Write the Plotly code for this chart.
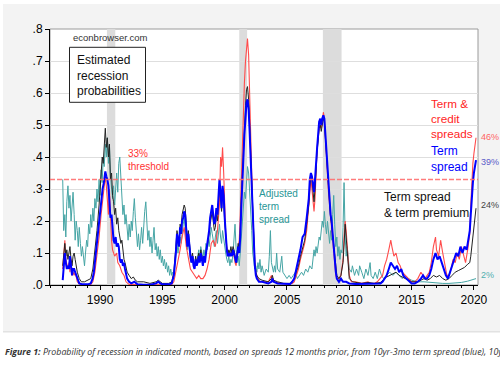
import plotly.graph_objects as go

# ---------------- data ----------------
# (decimal year, probability)
TERM_SPREAD = [
    (1987.00, 0.015), (1987.08, 0.06), (1987.17, 0.10), (1987.25, 0.07), (1987.33, 0.05), (1987.42, 0.06),
    (1987.50, 0.05), (1987.58, 0.09), (1987.67, 0.06), (1987.75, 0.03), (1987.83, 0.05), (1987.92, 0.05),
    (1988.00, 0.04), (1988.17, 0.02), (1988.33, 0.005), (1988.50, 0.003), (1988.75, 0.002), (1989.00, 0.002),
    (1989.25, 0.005), (1989.40, 0.02), (1989.50, 0.04), (1989.60, 0.08), (1989.75, 0.14), (1989.90, 0.20),
    (1990.00, 0.24), (1990.10, 0.27), (1990.20, 0.30), (1990.30, 0.32), (1990.42, 0.355), (1990.50, 0.34),
    (1990.58, 0.33), (1990.67, 0.31), (1990.75, 0.25), (1990.83, 0.21), (1990.92, 0.22), (1991.00, 0.17),
    (1991.08, 0.14), (1991.17, 0.13), (1991.25, 0.15), (1991.33, 0.12), (1991.42, 0.13), (1991.50, 0.12),
    (1991.58, 0.08), (1991.67, 0.07), (1991.75, 0.08), (1991.83, 0.06), (1991.92, 0.07), (1992.00, 0.05),
    (1992.17, 0.02), (1992.33, 0.01), (1992.50, 0.005), (1992.75, 0.01), (1993.00, 0.002), (1993.50, 0.001),
    (1994.00, 0.001), (1994.50, 0.005), (1994.67, 0.01), (1994.83, 0.005), (1995.00, 0.002), (1995.50, 0.002),
    (1995.75, 0.005), (1995.92, 0.03), (1996.00, 0.06), (1996.08, 0.10), (1996.17, 0.16), (1996.25, 0.14),
    (1996.33, 0.12), (1996.42, 0.18), (1996.50, 0.16), (1996.58, 0.20), (1996.67, 0.21), (1996.75, 0.23),
    (1996.83, 0.22), (1996.92, 0.17), (1997.00, 0.12), (1997.08, 0.16), (1997.17, 0.11), (1997.25, 0.09),
    (1997.33, 0.07), (1997.42, 0.09), (1997.50, 0.06), (1997.58, 0.05), (1997.67, 0.08), (1997.75, 0.06),
    (1997.83, 0.07), (1997.92, 0.09), (1998.00, 0.07), (1998.08, 0.10), (1998.17, 0.08), (1998.25, 0.06),
    (1998.33, 0.09), (1998.42, 0.07), (1998.50, 0.10), (1998.58, 0.12), (1998.67, 0.14), (1998.75, 0.17),
    (1998.83, 0.21), (1998.92, 0.24), (1999.00, 0.25), (1999.08, 0.22), (1999.17, 0.19), (1999.25, 0.20),
    (1999.33, 0.24), (1999.42, 0.22), (1999.50, 0.27), (1999.58, 0.33), (1999.67, 0.29), (1999.75, 0.24),
    (1999.83, 0.31), (1999.92, 0.28), (2000.00, 0.21), (2000.08, 0.15), (2000.17, 0.11), (2000.25, 0.09),
    (2000.33, 0.10), (2000.42, 0.09), (2000.50, 0.10), (2000.58, 0.09), (2000.67, 0.11), (2000.75, 0.10),
    (2000.83, 0.08), (2000.92, 0.07), (2001.00, 0.09), (2001.08, 0.12), (2001.17, 0.10), (2001.25, 0.15),
    (2001.33, 0.24), (2001.42, 0.33), (2001.50, 0.41), (2001.58, 0.47), (2001.67, 0.52), (2001.75, 0.57),
    (2001.83, 0.58), (2001.92, 0.55), (2002.00, 0.48), (2002.08, 0.40), (2002.17, 0.30), (2002.25, 0.19),
    (2002.33, 0.12), (2002.42, 0.06), (2002.50, 0.03), (2002.58, 0.02), (2002.75, 0.01), (2003.00, 0.01),
    (2003.50, 0.005), (2003.75, 0.01), (2003.83, 0.02), (2003.92, 0.01), (2004.25, 0.005), (2004.75, 0.003),
    (2005.00, 0.002), (2005.25, 0.003), (2005.42, 0.01), (2005.58, 0.02), (2005.75, 0.05), (2005.92, 0.08),
    (2006.08, 0.11), (2006.25, 0.15), (2006.42, 0.16), (2006.58, 0.21), (2006.75, 0.27), (2006.83, 0.33),
    (2006.92, 0.35), (2007.00, 0.34), (2007.08, 0.31), (2007.17, 0.29), (2007.25, 0.33), (2007.33, 0.40),
    (2007.42, 0.43), (2007.50, 0.47), (2007.58, 0.51), (2007.67, 0.52), (2007.75, 0.50), (2007.83, 0.52),
    (2007.92, 0.53), (2008.00, 0.52), (2008.08, 0.47), (2008.17, 0.41), (2008.25, 0.34), (2008.33, 0.31),
    (2008.42, 0.26), (2008.50, 0.22), (2008.58, 0.20), (2008.67, 0.15), (2008.75, 0.11), (2008.83, 0.08),
    (2008.92, 0.04), (2009.00, 0.02), (2009.17, 0.01), (2009.33, 0.02), (2009.50, 0.01), (2009.75, 0.01),
    (2010.00, 0.005), (2010.50, 0.003), (2011.00, 0.003), (2011.50, 0.005), (2012.00, 0.003), (2012.50, 0.005),
    (2012.67, 0.01), (2012.83, 0.02), (2013.00, 0.03), (2013.17, 0.05), (2013.33, 0.07), (2013.50, 0.06),
    (2013.67, 0.05), (2013.83, 0.06), (2014.00, 0.04), (2014.17, 0.05), (2014.33, 0.03), (2014.58, 0.02),
    (2014.83, 0.01), (2015.00, 0.005), (2015.25, 0.005), (2015.50, 0.01), (2015.75, 0.02), (2015.92, 0.03),
    (2016.08, 0.02), (2016.25, 0.02), (2016.42, 0.03), (2016.58, 0.05), (2016.75, 0.08), (2016.92, 0.10),
    (2017.08, 0.08), (2017.25, 0.09), (2017.42, 0.07), (2017.58, 0.05), (2017.75, 0.03), (2017.92, 0.02),
    (2018.08, 0.04), (2018.25, 0.06), (2018.42, 0.08), (2018.58, 0.10), (2018.75, 0.09), (2018.92, 0.12),
    (2019.08, 0.10), (2019.25, 0.12), (2019.42, 0.11), (2019.58, 0.15), (2019.67, 0.17), (2019.75, 0.22),
    (2019.83, 0.28), (2019.92, 0.32), (2020.00, 0.35), (2020.08, 0.37), (2020.17, 0.39),
]

TERM_CREDIT = [
    (1987.00, 0.05), (1987.08, 0.09), (1987.17, 0.14), (1987.25, 0.08), (1987.33, 0.06), (1987.42, 0.05),
    (1987.50, 0.07), (1987.58, 0.04), (1987.67, 0.08), (1987.75, 0.03), (1987.83, 0.04), (1987.92, 0.03),
    (1988.00, 0.04), (1988.17, 0.01), (1988.33, 0.003), (1988.75, 0.001), (1989.25, 0.002), (1989.42, 0.01),
    (1989.58, 0.04), (1989.75, 0.09), (1989.92, 0.15), (1990.08, 0.22), (1990.25, 0.29), (1990.42, 0.34),
    (1990.50, 0.31), (1990.58, 0.27), (1990.67, 0.22), (1990.75, 0.30), (1990.83, 0.19), (1990.92, 0.14),
    (1991.00, 0.11), (1991.17, 0.09), (1991.33, 0.10), (1991.42, 0.07), (1991.58, 0.06), (1991.75, 0.04),
    (1991.92, 0.03), (1992.08, 0.01), (1992.33, 0.002), (1993.00, 0.001), (1994.00, 0.001), (1995.00, 0.001),
    (1995.75, 0.002), (1995.92, 0.01), (1996.08, 0.04), (1996.25, 0.08), (1996.42, 0.11), (1996.58, 0.15),
    (1996.75, 0.18), (1996.92, 0.12), (1997.08, 0.09), (1997.25, 0.05), (1997.42, 0.04), (1997.58, 0.03),
    (1997.75, 0.02), (1997.92, 0.03), (1998.08, 0.02), (1998.25, 0.02), (1998.42, 0.03), (1998.58, 0.05),
    (1998.75, 0.08), (1998.92, 0.13), (1999.08, 0.14), (1999.25, 0.12), (1999.42, 0.17), (1999.58, 0.25),
    (1999.67, 0.40), (1999.75, 0.37), (1999.83, 0.43), (1999.92, 0.35), (2000.00, 0.22), (2000.08, 0.16),
    (2000.17, 0.12), (2000.33, 0.09), (2000.50, 0.10), (2000.67, 0.11), (2000.83, 0.07), (2000.92, 0.06),
    (2001.00, 0.10), (2001.17, 0.14), (2001.25, 0.22), (2001.33, 0.33), (2001.42, 0.44), (2001.50, 0.55),
    (2001.58, 0.63), (2001.67, 0.70), (2001.75, 0.75), (2001.83, 0.77), (2001.92, 0.72), (2002.00, 0.62),
    (2002.08, 0.48), (2002.17, 0.35), (2002.25, 0.22), (2002.33, 0.12), (2002.42, 0.07), (2002.50, 0.04),
    (2002.67, 0.02), (2002.83, 0.01), (2003.50, 0.01), (2003.75, 0.03), (2003.83, 0.02), (2004.00, 0.01),
    (2004.50, 0.005), (2005.00, 0.003), (2005.42, 0.005), (2005.58, 0.01), (2005.75, 0.03), (2005.92, 0.05),
    (2006.08, 0.08), (2006.25, 0.11), (2006.42, 0.13), (2006.58, 0.17), (2006.75, 0.25), (2006.83, 0.31),
    (2006.92, 0.33), (2007.00, 0.30), (2007.17, 0.23), (2007.25, 0.27), (2007.33, 0.37), (2007.42, 0.43),
    (2007.50, 0.46), (2007.58, 0.49), (2007.67, 0.50), (2007.75, 0.49), (2007.83, 0.51), (2007.92, 0.54),
    (2008.00, 0.52), (2008.08, 0.46), (2008.17, 0.40), (2008.25, 0.33), (2008.33, 0.29), (2008.42, 0.25),
    (2008.50, 0.21), (2008.58, 0.18), (2008.67, 0.13), (2008.75, 0.09), (2008.83, 0.06), (2008.92, 0.03),
    (2009.00, 0.02), (2009.17, 0.02), (2009.33, 0.03), (2009.50, 0.08), (2009.58, 0.15), (2009.67, 0.20),
    (2009.75, 0.17), (2009.83, 0.12), (2009.92, 0.06), (2010.00, 0.03), (2010.17, 0.01), (2010.50, 0.01),
    (2011.00, 0.005), (2011.50, 0.01), (2011.75, 0.005), (2012.00, 0.005), (2012.25, 0.01), (2012.50, 0.02),
    (2012.67, 0.03), (2012.83, 0.06), (2013.00, 0.08), (2013.17, 0.11), (2013.33, 0.14), (2013.42, 0.12),
    (2013.58, 0.09), (2013.75, 0.10), (2013.92, 0.07), (2014.08, 0.06), (2014.25, 0.04), (2014.50, 0.03),
    (2014.75, 0.02), (2015.00, 0.01), (2015.25, 0.01), (2015.50, 0.02), (2015.75, 0.04), (2015.92, 0.03),
    (2016.08, 0.02), (2016.25, 0.03), (2016.42, 0.04), (2016.58, 0.07), (2016.75, 0.12), (2016.92, 0.15),
    (2017.00, 0.11), (2017.17, 0.09), (2017.33, 0.14), (2017.50, 0.10), (2017.67, 0.06), (2017.83, 0.03),
    (2018.00, 0.03), (2018.17, 0.05), (2018.33, 0.08), (2018.50, 0.07), (2018.67, 0.10), (2018.83, 0.08),
    (2019.00, 0.12), (2019.17, 0.09), (2019.33, 0.07), (2019.50, 0.11), (2019.67, 0.16), (2019.75, 0.25),
    (2019.83, 0.33), (2019.92, 0.38), (2020.00, 0.41), (2020.08, 0.44), (2020.17, 0.46),
]

TERM_PREMIUM = [
    (1987.00, 0.06), (1987.08, 0.10), (1987.17, 0.13), (1987.25, 0.09), (1987.33, 0.11), (1987.42, 0.08),
    (1987.50, 0.10), (1987.58, 0.12), (1987.67, 0.08), (1987.75, 0.06), (1987.83, 0.09), (1987.92, 0.10),
    (1988.00, 0.08), (1988.08, 0.06), (1988.17, 0.04), (1988.33, 0.02), (1988.50, 0.01), (1988.75, 0.01),
    (1989.00, 0.015), (1989.25, 0.02), (1989.42, 0.05), (1989.58, 0.10), (1989.75, 0.17), (1989.92, 0.25),
    (1990.00, 0.30), (1990.08, 0.36), (1990.17, 0.40), (1990.25, 0.38), (1990.33, 0.45), (1990.42, 0.49),
    (1990.50, 0.43), (1990.58, 0.46), (1990.67, 0.40), (1990.75, 0.44), (1990.83, 0.33), (1990.92, 0.35),
    (1991.00, 0.28), (1991.08, 0.26), (1991.17, 0.22), (1991.25, 0.24), (1991.33, 0.19), (1991.42, 0.21),
    (1991.50, 0.17), (1991.58, 0.15), (1991.67, 0.13), (1991.75, 0.14), (1991.83, 0.10), (1991.92, 0.08),
    (1992.00, 0.07), (1992.17, 0.04), (1992.33, 0.03), (1992.50, 0.02), (1992.67, 0.025), (1992.83, 0.015),
    (1993.00, 0.01), (1993.50, 0.01), (1994.00, 0.005), (1994.50, 0.01), (1994.67, 0.015), (1995.00, 0.005),
    (1995.50, 0.005), (1995.75, 0.01), (1995.92, 0.04), (1996.00, 0.07), (1996.08, 0.12), (1996.17, 0.17),
    (1996.25, 0.15), (1996.33, 0.13), (1996.42, 0.19), (1996.50, 0.18), (1996.58, 0.22), (1996.67, 0.24),
    (1996.75, 0.25), (1996.83, 0.24), (1996.92, 0.19), (1997.00, 0.14), (1997.08, 0.17), (1997.17, 0.12),
    (1997.25, 0.10), (1997.33, 0.08), (1997.42, 0.10), (1997.50, 0.07), (1997.58, 0.06), (1997.67, 0.09),
    (1997.75, 0.07), (1997.83, 0.08), (1997.92, 0.10), (1998.00, 0.08), (1998.08, 0.11), (1998.17, 0.09),
    (1998.25, 0.07), (1998.33, 0.09), (1998.42, 0.08), (1998.50, 0.10), (1998.58, 0.12), (1998.67, 0.13),
    (1998.75, 0.16), (1998.83, 0.19), (1998.92, 0.22), (1999.00, 0.23), (1999.08, 0.20), (1999.17, 0.17),
    (1999.25, 0.18), (1999.33, 0.22), (1999.42, 0.20), (1999.50, 0.25), (1999.58, 0.31), (1999.67, 0.27),
    (1999.75, 0.23), (1999.83, 0.29), (1999.92, 0.26), (2000.00, 0.20), (2000.08, 0.14), (2000.17, 0.11),
    (2000.25, 0.09), (2000.33, 0.11), (2000.42, 0.10), (2000.50, 0.12), (2000.58, 0.10), (2000.67, 0.12),
    (2000.75, 0.11), (2000.83, 0.09), (2000.92, 0.07), (2001.00, 0.10), (2001.08, 0.13), (2001.17, 0.11),
    (2001.25, 0.16), (2001.33, 0.26), (2001.42, 0.35), (2001.50, 0.44), (2001.58, 0.50), (2001.67, 0.56),
    (2001.75, 0.61), (2001.83, 0.62), (2001.92, 0.58), (2002.00, 0.50), (2002.08, 0.41), (2002.17, 0.31),
    (2002.25, 0.20), (2002.33, 0.12), (2002.42, 0.07), (2002.50, 0.04), (2002.58, 0.03), (2002.75, 0.02),
    (2003.00, 0.015), (2003.50, 0.01), (2003.75, 0.02), (2003.83, 0.03), (2003.92, 0.015), (2004.25, 0.01),
    (2004.75, 0.005), (2005.00, 0.005), (2005.25, 0.005), (2005.42, 0.01), (2005.58, 0.02), (2005.75, 0.04),
    (2005.92, 0.06), (2006.08, 0.09), (2006.25, 0.12), (2006.42, 0.14), (2006.58, 0.19), (2006.75, 0.25),
    (2006.83, 0.31), (2006.92, 0.34), (2007.00, 0.33), (2007.08, 0.30), (2007.17, 0.26), (2007.25, 0.30),
    (2007.33, 0.38), (2007.42, 0.42), (2007.50, 0.45), (2007.58, 0.49), (2007.67, 0.50), (2007.75, 0.48),
    (2007.83, 0.50), (2007.92, 0.52), (2008.00, 0.51), (2008.08, 0.46), (2008.17, 0.40), (2008.25, 0.33),
    (2008.33, 0.30), (2008.42, 0.25), (2008.50, 0.21), (2008.58, 0.19), (2008.67, 0.15), (2008.75, 0.12),
    (2008.83, 0.09), (2008.92, 0.05), (2009.00, 0.03), (2009.17, 0.02), (2009.33, 0.03), (2009.50, 0.07),
    (2009.58, 0.14), (2009.67, 0.19), (2009.75, 0.15), (2009.83, 0.10), (2009.92, 0.05), (2010.00, 0.02),
    (2010.25, 0.01), (2011.00, 0.005), (2011.50, 0.008), (2012.00, 0.005), (2012.50, 0.008), (2012.67, 0.015),
    (2012.83, 0.02), (2013.00, 0.025), (2013.25, 0.03), (2013.50, 0.035), (2013.75, 0.04), (2014.00, 0.03),
    (2014.25, 0.025), (2014.50, 0.02), (2014.75, 0.015), (2015.00, 0.01), (2015.50, 0.01), (2015.75, 0.015),
    (2016.00, 0.02), (2016.25, 0.015), (2016.50, 0.02), (2016.75, 0.03), (2017.00, 0.025), (2017.25, 0.03),
    (2017.50, 0.02), (2017.75, 0.015), (2018.00, 0.02), (2018.25, 0.03), (2018.50, 0.04), (2018.75, 0.045),
    (2019.00, 0.05), (2019.25, 0.055), (2019.50, 0.065), (2019.67, 0.07), (2019.75, 0.09), (2019.83, 0.12),
    (2019.92, 0.16), (2020.00, 0.19), (2020.08, 0.22), (2020.17, 0.24),
]

ADJUSTED_TERM = [
    (1987.00, 0.33), (1987.08, 0.17), (1987.17, 0.22), (1987.25, 0.15), (1987.33, 0.26), (1987.42, 0.31),
    (1987.50, 0.24), (1987.58, 0.28), (1987.67, 0.20), (1987.75, 0.25), (1987.83, 0.29), (1987.92, 0.22),
    (1988.00, 0.14), (1988.08, 0.20), (1988.17, 0.17), (1988.25, 0.12), (1988.33, 0.18), (1988.42, 0.13),
    (1988.50, 0.09), (1988.58, 0.12), (1988.67, 0.08), (1988.75, 0.06), (1988.83, 0.10), (1988.92, 0.14),
    (1989.00, 0.12), (1989.08, 0.19), (1989.17, 0.16), (1989.25, 0.22), (1989.33, 0.18), (1989.42, 0.24),
    (1989.50, 0.20), (1989.58, 0.27), (1989.67, 0.24), (1989.75, 0.30), (1989.83, 0.26), (1989.92, 0.33),
    (1990.00, 0.28), (1990.08, 0.36), (1990.17, 0.32), (1990.25, 0.40), (1990.33, 0.37), (1990.42, 0.44),
    (1990.50, 0.40), (1990.58, 0.46), (1990.67, 0.38), (1990.75, 0.44), (1990.83, 0.34), (1990.92, 0.30),
    (1991.00, 0.27), (1991.08, 0.31), (1991.17, 0.25), (1991.25, 0.30), (1991.33, 0.35), (1991.42, 0.29),
    (1991.50, 0.38), (1991.58, 0.40), (1991.67, 0.33), (1991.75, 0.27), (1991.83, 0.22), (1991.92, 0.25),
    (1992.00, 0.19), (1992.08, 0.22), (1992.17, 0.17), (1992.25, 0.14), (1992.33, 0.19), (1992.42, 0.15),
    (1992.50, 0.20), (1992.58, 0.17), (1992.67, 0.23), (1992.75, 0.27), (1992.83, 0.21), (1992.92, 0.17),
    (1993.00, 0.12), (1993.08, 0.16), (1993.17, 0.11), (1993.25, 0.14), (1993.33, 0.18), (1993.42, 0.13),
    (1993.50, 0.20), (1993.58, 0.23), (1993.67, 0.26), (1993.75, 0.20), (1993.83, 0.14), (1993.92, 0.17),
    (1994.00, 0.12), (1994.08, 0.15), (1994.17, 0.10), (1994.25, 0.14), (1994.33, 0.18), (1994.42, 0.11),
    (1994.50, 0.13), (1994.58, 0.09), (1994.67, 0.12), (1994.75, 0.08), (1994.83, 0.11), (1994.92, 0.07),
    (1995.00, 0.09), (1995.08, 0.06), (1995.17, 0.08), (1995.25, 0.05), (1995.33, 0.07), (1995.42, 0.04),
    (1995.50, 0.06), (1995.58, 0.03), (1995.67, 0.05), (1995.75, 0.03), (1995.83, 0.04), (1995.92, 0.03),
    (1996.00, 0.06), (1996.08, 0.09), (1996.17, 0.13), (1996.25, 0.10), (1996.33, 0.12), (1996.42, 0.15),
    (1996.50, 0.13), (1996.58, 0.17), (1996.67, 0.19), (1996.75, 0.21), (1996.83, 0.18), (1996.92, 0.14),
    (1997.00, 0.11), (1997.08, 0.14), (1997.17, 0.10), (1997.25, 0.08), (1997.33, 0.07), (1997.42, 0.09),
    (1997.50, 0.06), (1997.58, 0.05), (1997.67, 0.08), (1997.75, 0.06), (1997.83, 0.09), (1997.92, 0.11),
    (1998.00, 0.08), (1998.08, 0.12), (1998.17, 0.10), (1998.25, 0.08), (1998.33, 0.11), (1998.42, 0.09),
    (1998.50, 0.13), (1998.58, 0.11), (1998.67, 0.14), (1998.75, 0.12), (1998.83, 0.15), (1998.92, 0.18),
    (1999.00, 0.16), (1999.08, 0.14), (1999.17, 0.12), (1999.25, 0.15), (1999.33, 0.17), (1999.42, 0.13),
    (1999.50, 0.16), (1999.58, 0.19), (1999.67, 0.15), (1999.75, 0.13), (1999.83, 0.17), (1999.92, 0.14),
    (2000.00, 0.12), (2000.08, 0.10), (2000.17, 0.08), (2000.25, 0.07), (2000.33, 0.09), (2000.42, 0.06),
    (2000.50, 0.08), (2000.58, 0.07), (2000.67, 0.10), (2000.75, 0.15), (2000.83, 0.19), (2000.92, 0.11),
    (2001.00, 0.07), (2001.08, 0.09), (2001.17, 0.06), (2001.25, 0.10), (2001.33, 0.14), (2001.42, 0.19),
    (2001.50, 0.25), (2001.58, 0.29), (2001.67, 0.27), (2001.75, 0.33), (2001.83, 0.37), (2001.92, 0.35),
    (2002.00, 0.30), (2002.08, 0.22), (2002.17, 0.17), (2002.25, 0.10), (2002.33, 0.07), (2002.42, 0.05),
    (2002.50, 0.06), (2002.58, 0.04), (2002.67, 0.07), (2002.75, 0.05), (2002.83, 0.08), (2002.92, 0.04),
    (2003.00, 0.06), (2003.17, 0.03), (2003.33, 0.05), (2003.50, 0.04), (2003.58, 0.09), (2003.67, 0.17),
    (2003.75, 0.07), (2003.83, 0.05), (2003.92, 0.04), (2004.00, 0.06), (2004.08, 0.04), (2004.17, 0.10),
    (2004.25, 0.05), (2004.42, 0.04), (2004.50, 0.06), (2004.58, 0.09), (2004.67, 0.04), (2004.83, 0.03),
    (2005.00, 0.02), (2005.17, 0.03), (2005.33, 0.02), (2005.50, 0.03), (2005.67, 0.04), (2005.83, 0.02),
    (2006.00, 0.03), (2006.17, 0.04), (2006.33, 0.03), (2006.50, 0.05), (2006.67, 0.04), (2006.83, 0.06),
    (2007.00, 0.05), (2007.08, 0.08), (2007.17, 0.11), (2007.25, 0.09), (2007.33, 0.12), (2007.42, 0.10),
    (2007.50, 0.13), (2007.58, 0.15), (2007.67, 0.14), (2007.75, 0.17), (2007.83, 0.20), (2007.92, 0.18),
    (2008.00, 0.23), (2008.08, 0.19), (2008.17, 0.16), (2008.25, 0.20), (2008.33, 0.15), (2008.42, 0.13),
    (2008.50, 0.17), (2008.58, 0.14), (2008.67, 0.22), (2008.75, 0.28), (2008.83, 0.19), (2008.92, 0.12),
    (2009.00, 0.15), (2009.08, 0.09), (2009.17, 0.12), (2009.25, 0.08), (2009.33, 0.11), (2009.42, 0.10),
    (2009.50, 0.18), (2009.58, 0.32), (2009.67, 0.15), (2009.75, 0.09), (2009.83, 0.12), (2009.92, 0.07),
    (2010.00, 0.05), (2010.17, 0.04), (2010.25, 0.06), (2010.42, 0.03), (2010.58, 0.05), (2010.75, 0.03),
    (2010.83, 0.06), (2011.00, 0.04), (2011.17, 0.02), (2011.33, 0.05), (2011.50, 0.03), (2011.67, 0.07),
    (2011.75, 0.03), (2011.92, 0.02), (2012.08, 0.04), (2012.25, 0.02), (2012.42, 0.05), (2012.58, 0.03),
    (2012.75, 0.02), (2013.00, 0.03), (2013.25, 0.04), (2013.50, 0.03), (2013.75, 0.04), (2014.00, 0.03),
    (2014.25, 0.02), (2014.50, 0.03), (2014.75, 0.02), (2015.00, 0.015), (2015.50, 0.01), (2016.00, 0.01),
    (2016.50, 0.008), (2017.00, 0.006), (2017.50, 0.005), (2018.00, 0.005), (2018.50, 0.006), (2019.00, 0.008),
    (2019.50, 0.012), (2019.75, 0.015), (2020.00, 0.018), (2020.17, 0.02),
]

RECESSIONS = [(1990.55, 1991.22), (2001.17, 2001.80), (2007.88, 2009.38)]
THRESHOLD = 0.33

Y_TICK_VALUES = [0.0, 0.1, 0.2, 0.3, 0.4, 0.5, 0.6, 0.7, 0.8]
Y_TICK_LABELS = [".0", ".1", ".2", ".3", ".4", ".5", ".6", ".7", ".8"]
X_TICK_VALUES = [1990, 1995, 2000, 2005, 2010, 2015, 2020]
X_TICK_LABELS = ["1990", "1995", "2000", "2005", "2010", "2015", "2020"]

END_LABELS = ["46%", "39%", "24%", "2%"]

# ---------------- layout helpers ----------------
W, H = 500, 367
L, R, T, B = 50, 22, 29, 82
PW, PH = W - L - R, H - T - B


def px(xp):
    return (xp - L) / PW


def py(yp):
    return (H - B - yp) / PH


FONT = "Liberation Sans, Arial, sans-serif"

fig = go.Figure()


def add_series(data, color, width):
    xs = [d[0] for d in data]
    ys = [d[1] for d in data]
    fig.add_trace(go.Scatter(x=xs, y=ys, mode="lines",
                             line=dict(color=color, width=width),
                             showlegend=False, hoverinfo="skip"))


add_series(ADJUSTED_TERM, "rgb(70,165,165)", 1)
add_series(TERM_CREDIT, "rgb(255,75,75)", 1.1)
add_series(TERM_PREMIUM, "rgb(35,35,35)", 1)
add_series(TERM_SPREAD, "rgb(0,0,255)", 2)

shapes = []
# grey card behind the chart
shapes.append(dict(type="rect", xref="paper", yref="paper",
                   x0=px(3), x1=px(510), y0=py(331), y1=py(4),
                   fillcolor="#f3f3f3", line=dict(width=0), layer="below"))
shapes.append(dict(type="rect", xref="paper", yref="paper",
                   x0=px(3), x1=px(510), y0=py(332.5), y1=py(331),
                   fillcolor="#e2e2e2", line=dict(width=0), layer="below"))
# white plot area
shapes.append(dict(type="rect", xref="paper", yref="paper",
                   x0=0, x1=1, y0=0, y1=1,
                   fillcolor="white", line=dict(color="#9a9a9a", width=1), layer="below"))
# recession shading
for a, b in RECESSIONS:
    shapes.append(dict(type="rect", xref="x", yref="paper", x0=a, x1=b, y0=0, y1=1,
                       fillcolor="#dcdcdc", line=dict(width=0), layer="below"))
# legend-like box
shapes.append(dict(type="rect", xref="paper", yref="paper",
                   x0=px(69.5), x1=px(145.5), y0=py(102.3), y1=py(47.3),
                   fillcolor="white", line=dict(color="#222", width=1), layer="above"))
fig.update_layout(shapes=shapes)

fig.add_hline(y=THRESHOLD, line=dict(color="rgba(255,110,110,0.9)", width=1.5, dash="5px,2px"),
              layer="above")

ann = []


def text(x, y, s, color, size, xanchor="left", family=FONT):
    ann.append(dict(xref="paper", yref="paper", x=px(x), y=py(y), text=s, showarrow=False,
                    xanchor=xanchor, yanchor="middle", align="left",
                    font=dict(family=family, size=size, color=color)))


text(71, 37, "econbrowser.com", "#333333", 9.5)
text(75, 75, "Estimated<br>recession<br>probabilities", "#111111", 12)
text(126, 159.5, "33%<br>threshold", "rgb(255,50,50)", 10)
text(257, 206.5, "Adjusted<br>term<br>spread", "rgb(40,150,150)", 10)
text(382, 204.5, "Term spread<br>& term premium", "#111111", 12)
text(429, 118.3, "Term &amp;<br>credit<br>spreads", "rgb(255,30,30)", 11.7)
text(429, 158.5, "Term<br>spread", "rgb(0,0,255)", 12)
text(478.5, 136.5, END_LABELS[0], "rgb(255,100,100)", 9)
text(478.5, 161.5, END_LABELS[1], "rgb(90,90,200)", 9)
text(478.5, 204.5, END_LABELS[2], "#444444", 9)
text(478.5, 274.5, END_LABELS[3], "rgb(80,175,175)", 9)

ann.append(dict(xref="paper", yref="paper", x=px(3), y=py(352), showarrow=False,
                xanchor="left", yanchor="middle", align="left",
                text="<b><i>Figure 1:</i></b><i> Probability of recession in indicated month, based on spreads "
                     "12 months prior, from 10yr-3mo term spread (blue), 10yr</i>",
                font=dict(family="Open Sans, sans-serif", size=8.8, color="#333333")))
fig.update_layout(annotations=ann)

fig.update_layout(
    width=W, height=H,
    margin=dict(l=L, r=R, t=T, b=B, pad=0),
    paper_bgcolor="white", plot_bgcolor="white",
    font=dict(family=FONT, size=12, color="black"),
    xaxis=dict(range=[1985.98, 2020.33], tickvals=X_TICK_VALUES, ticktext=X_TICK_LABELS,
               ticks="outside", ticklen=4, tickcolor="black", tickwidth=1,
               minor=dict(dtick=1, tick0=1990, ticks="outside", ticklen=2, tickcolor="black"),
               showline=True, linecolor="black", linewidth=1, showgrid=False, zeroline=False,
               tickfont=dict(size=12, color="black")),
    yaxis=dict(range=[0, 0.8], tickvals=Y_TICK_VALUES, ticktext=Y_TICK_LABELS,
               ticks="outside", ticklen=4, tickcolor="black", tickwidth=1,
               showline=True, linecolor="black", linewidth=1,
               showgrid=True, gridcolor="#dedede", gridwidth=1, zeroline=False,
               tickfont=dict(size=12, color="black")),
)

fig.write_html("out.html", config={"displayModeBar": False},
               post_script="document.body.style.margin='0';document.body.style.overflow='hidden';")
